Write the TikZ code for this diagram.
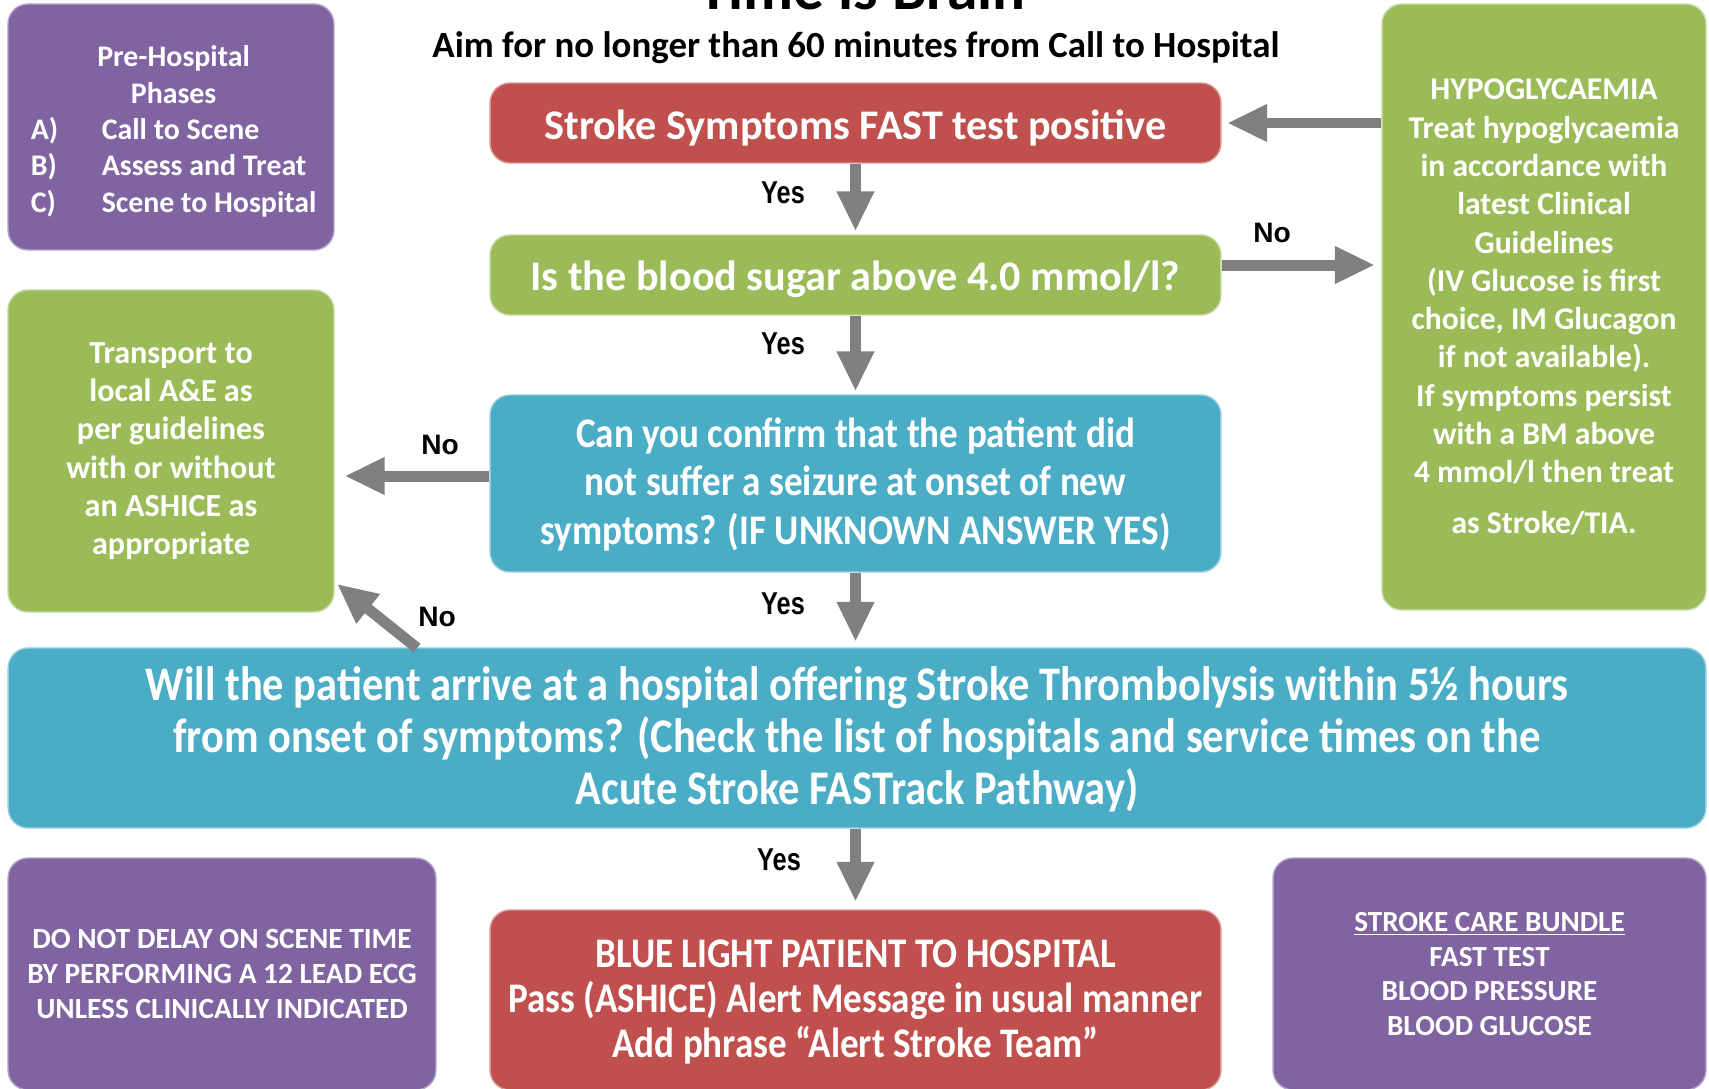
\documentclass[tikz,border=0pt]{standalone}
\usepackage{fontspec}
\setmainfont{Carlito}
\newfontfamily\narrowfont{Carlito}[FakeStretch=0.88]
\newfontfamily\yesfont{Liberation Sans}[FakeStretch=0.8]
\newfontfamily\nofont{Liberation Sans}
\usetikzlibrary{arrows.meta}
\definecolor{stpurple}{RGB}{128,100,162}
\definecolor{stred}{RGB}{192,80,77}
\definecolor{stgreen}{RGB}{155,187,89}
\definecolor{stblue}{RGB}{75,172,198}
\definecolor{stgray}{RGB}{128,128,128}
\newcommand{\lowered}[2]{\raisebox{-#1}[\height][\depth]{#2}}

\begin{document}
\begin{tikzpicture}[x=0.02cm, y=-0.02cm,
	box/.style={rounded corners=0.4cm, align=center, text=white, inner sep=0pt, line width=0.8pt},
	purplebox/.style={box, fill=stpurple, draw=stpurple!60!white},
	redbox/.style={box, fill=stred, draw=stred!60!white},
	greenbox/.style={box, fill=stgreen, draw=stgreen!60!white},
	bluebox/.style={box, fill=stblue, draw=stblue!60!white},
	flow/.style={draw=stgray, line width=0.22cm, -{Triangle[length=0.8cm,width=0.7cm]}},
	yeslabel/.style={font=\yesfont\bfseries\fontsize{18}{20}\selectfont},
	nolabel/.style={font=\nofont\bfseries\fontsize{16}{18}\selectfont}]
	\useasboundingbox (0,0) rectangle (1709,1088);

	\node[font=\bfseries\fontsize{35}{40}\selectfont, anchor=base] (brain) at (862,10) {Time is Brain};
	\node[font=\bfseries\fontsize{21}{25}\selectfont] (aim) at (856,48) {Aim for no longer than 60 minutes from Call to Hospital};

\node[purplebox, minimum width=6.52cm, minimum height=4.92cm, font=\bfseries\fontsize{17}{20.7}\selectfont] (phases) at (171,127) {\hspace*{3pt}\lowered{3pt}{%
	\begin{tabular}{@{}p{1.42cm}@{}l@{}}
	\multicolumn{2}{c}{Pre-Hospital}\\
	\multicolumn{2}{c}{Phases}\\
	A) & Call to Scene\\
	B) & Assess and Treat\\
	C) & Scene to Hospital
	\end{tabular}}};

\node[redbox, minimum width=14.62cm, minimum height=1.6cm, font=\bfseries\fontsize{24}{28}\selectfont] (fast) at (855.5,123) {\lowered{3pt}{Stroke Symptoms FAST test positive}};
\node[greenbox, minimum width=14.62cm, minimum height=1.6cm, font=\bfseries\fontsize{24}{28}\selectfont] (sugar) at (855.5,275) {\lowered{2.5pt}{Is the blood sugar above 4.0 mmol/l?}};
\node[bluebox, minimum width=14.62cm, minimum height=3.54cm, font=\narrowfont\bfseries\fontsize{24}{27.5}\selectfont] (seizure) at (855.5,483.5) {\lowered{1.5pt}{\begin{tabular}{@{}c@{}}Can you confirm that the patient did\\ not suffer a seizure at onset of new\\ symptoms? (IF UNKNOWN ANSWER YES)\end{tabular}}};

\node[greenbox, minimum width=6.48cm, minimum height=12.12cm, font=\bfseries\fontsize{18}{21.8}\selectfont] (hypo) at (1544,307) {HYPOGLYCAEMIA\\ Treat hypoglycaemia\\ in accordance with\\ latest Clinical\\ Guidelines\\ (IV Glucose is first\\ choice, IM Glucagon\\ if not available).\\ If symptoms persist\\ with a BM above\\ 4 mmol/l then treat\\[7pt] as Stroke/TIA.};
\node[greenbox, minimum width=6.52cm, minimum height=6.44cm, font=\bfseries\fontsize{18.3}{21.8}\selectfont] (transport) at (171,451) {Transport to\\ local A\&E as\\ per guidelines\\ with or without\\ an ASHICE as\\ appropriate};

\node[bluebox, minimum width=33.96cm, minimum height=3.6cm, font=\narrowfont\bfseries\fontsize{27.5}{29.5}\selectfont] (thrombo) at (857,738) {\lowered{2.5pt}{\begin{tabular}{@{}c@{}}Will the patient arrive at a hospital offering Stroke Thrombolysis within 5½ hours\\ from onset of symptoms? (Check the list of hospitals and service times on the\\ Acute Stroke FASTrack Pathway)\end{tabular}}};

	\node[purplebox, minimum width=8.56cm, minimum height=4.64cm, font=\bfseries\fontsize{16.7}{19.8}\selectfont] (ecg) at (222,974) {DO NOT DELAY ON SCENE TIME\\ BY PERFORMING A 12 LEAD ECG\\ UNLESS CLINICALLY INDICATED};
	\node[redbox, minimum width=14.62cm, minimum height=3.6cm, font=\narrowfont\bfseries\fontsize{24}{25.6}\selectfont] (bluelight) at (855.5,1000) {\lowered{2pt}{\begin{tabular}{@{}c@{}}BLUE LIGHT PATIENT TO HOSPITAL\\ Pass (ASHICE) Alert Message in usual manner\\ Add phrase “Alert Stroke Team”\end{tabular}}};
	\node[purplebox, minimum width=8.66cm, minimum height=4.64cm, font=\bfseries\fontsize{16.6}{19.8}\selectfont] (bundle) at (1489.5,974) {\underline{STROKE CARE BUNDLE}\\ FAST TEST\\ BLOOD PRESSURE\\ BLOOD GLUCOSE};

%	arrows
\draw[flow, shorten >=0.06cm] (fast.south) -- (sugar.north);
\draw[flow, shorten >=0.11cm] (hypo.west |- fast.east) -- (fast.east);
\draw[flow, shorten >=0.13cm] ([yshift=0.2cm]sugar.east) -- ([yshift=0.2cm]sugar.east -| hypo.west);
\draw[flow, shorten >=0.06cm] (sugar.south) -- (seizure.north);
\draw[flow, shorten >=0.2cm] ([yshift=0.15cm]seizure.west) -- ([yshift=0.15cm]seizure.west -| transport.east);
\draw[flow, shorten >=0.11cm] (seizure.south) -- (seizure.south |- thrombo.north);
	\coordinate (nostart) at (417,648);
\draw[flow, shorten >=0.06cm] (nostart) -- (transport);
\draw[flow, shorten >=0.15cm] (bluelight.north |- thrombo.south) -- (bluelight.north);

	\node[yeslabel] (yes1) at (783,193) {Yes};
	\node[yeslabel] (yes2) at (783,344) {Yes};
	\node[yeslabel] (yes3) at (783,604) {Yes};
	\node[yeslabel] (yes4) at (779,860) {Yes};
	\node[nolabel] (no1) at (1272,233) {No};
	\node[nolabel] (no2) at (440,445) {No};
	\node[nolabel] (no3) at (437,617) {No};

\end{tikzpicture}
\end{document}
